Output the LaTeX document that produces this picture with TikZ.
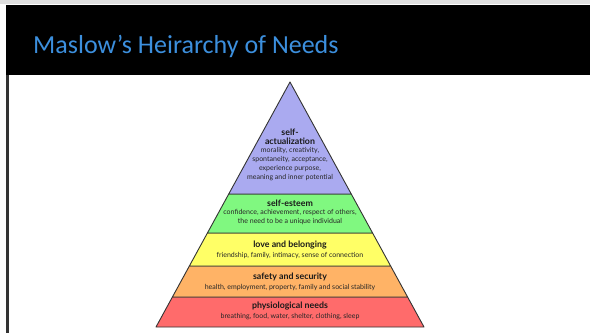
\documentclass[tikz,border=0pt]{standalone}
\usepackage{fontspec}
\setmainfont{Lato}
\newfontfamily\titlefont{Carlito}
\usetikzlibrary{calc}
\definecolor{tierpurple}{HTML}{AAAAF0}
\definecolor{tiergreen}{HTML}{80F880}
\definecolor{tieryellow}{HTML}{FFFF66}
\definecolor{tierorange}{HTML}{FFB366}
\definecolor{tierred}{HTML}{FF6B6B}
\definecolor{titleblue}{HTML}{3C8FDD}
\definecolor{edgegray}{HTML}{333333}
\tikzset{
  tier/.style={draw=edgegray, line width=0.9pt, line join=round},
  head/.style={font=\fontsize{8.8}{9.5}\selectfont\bfseries, text=black!90, inner sep=0pt},
  body/.style={font=\fontsize{7}{9}\selectfont, text=black!85, inner sep=0pt, align=center},
}
\begin{document}
\begin{tikzpicture}[x=1pt,y=-1pt]
\useasboundingbox (0,0) rectangle (590,333);
\fill[white] (0,0) rectangle (590,333);
\fill[black!12] (0,0) rectangle (590,4);
\fill[black] (6,5) rectangle (590,75);
\fill[edgegray] (6,75) rectangle (8.5,333);
\node[anchor=base west, inner sep=0pt, text=titleblue, font=\titlefont\fontsize{26}{30}\selectfont] (title) at (33,53) {Maslow’s Heirarchy of Needs};

\coordinate (A) at (290,82);
\coordinate (BL) at (156,327);
\coordinate (BR) at (424,327);
\foreach \n/\t in {1/0.4571,2/0.6163,3/0.7510,4/0.8776,5/1}{
  \coordinate (L\n) at ($(A)!\t!(BL)$);
  \coordinate (R\n) at ($(A)!\t!(BR)$);
}
\filldraw[tier, fill=tierred] (L4) -- (R4) -- (R5) -- (L5) -- cycle;
\filldraw[tier, fill=tierorange] (L3) -- (R3) -- (R4) -- (L4) -- cycle;
\filldraw[tier, fill=tieryellow] (L2) -- (R2) -- (R3) -- (L3) -- cycle;
\filldraw[tier, fill=tiergreen] (L1) -- (R1) -- (R2) -- (L2) -- cycle;
\filldraw[tier, fill=tierpurple] (A) -- (R1) -- (L1) -- cycle;

\node[head, align=center] (sa) at (290,137) {self-\\actualization};
\node[body, anchor=north] (sab) at (290,147) {morality, creativity,\\spontaneity, acceptance,\\experience purpose,\\meaning and inner potential};
\node[head] (se) at (290,203) {self-esteem};
\node[body, anchor=north] (seb) at (290,209.5) {confidence, achievement, respect of others,\\the need to be a unique individual};
\node[head] (lb) at (290,245) {love and belonging};
\node[body] (lbb) at (290,256) {friendship, family, intimacy, sense of connection};
\node[head] (ss) at (290,277) {safety and security};
\node[body] (ssb) at (290,288) {health, employment, property, family and social stability};
\node[head] (pn) at (290,306) {physiological needs};
\node[body] (pnb) at (290,317) {breathing, food, water, shelter, clothing, sleep};
\end{tikzpicture}
\end{document}
